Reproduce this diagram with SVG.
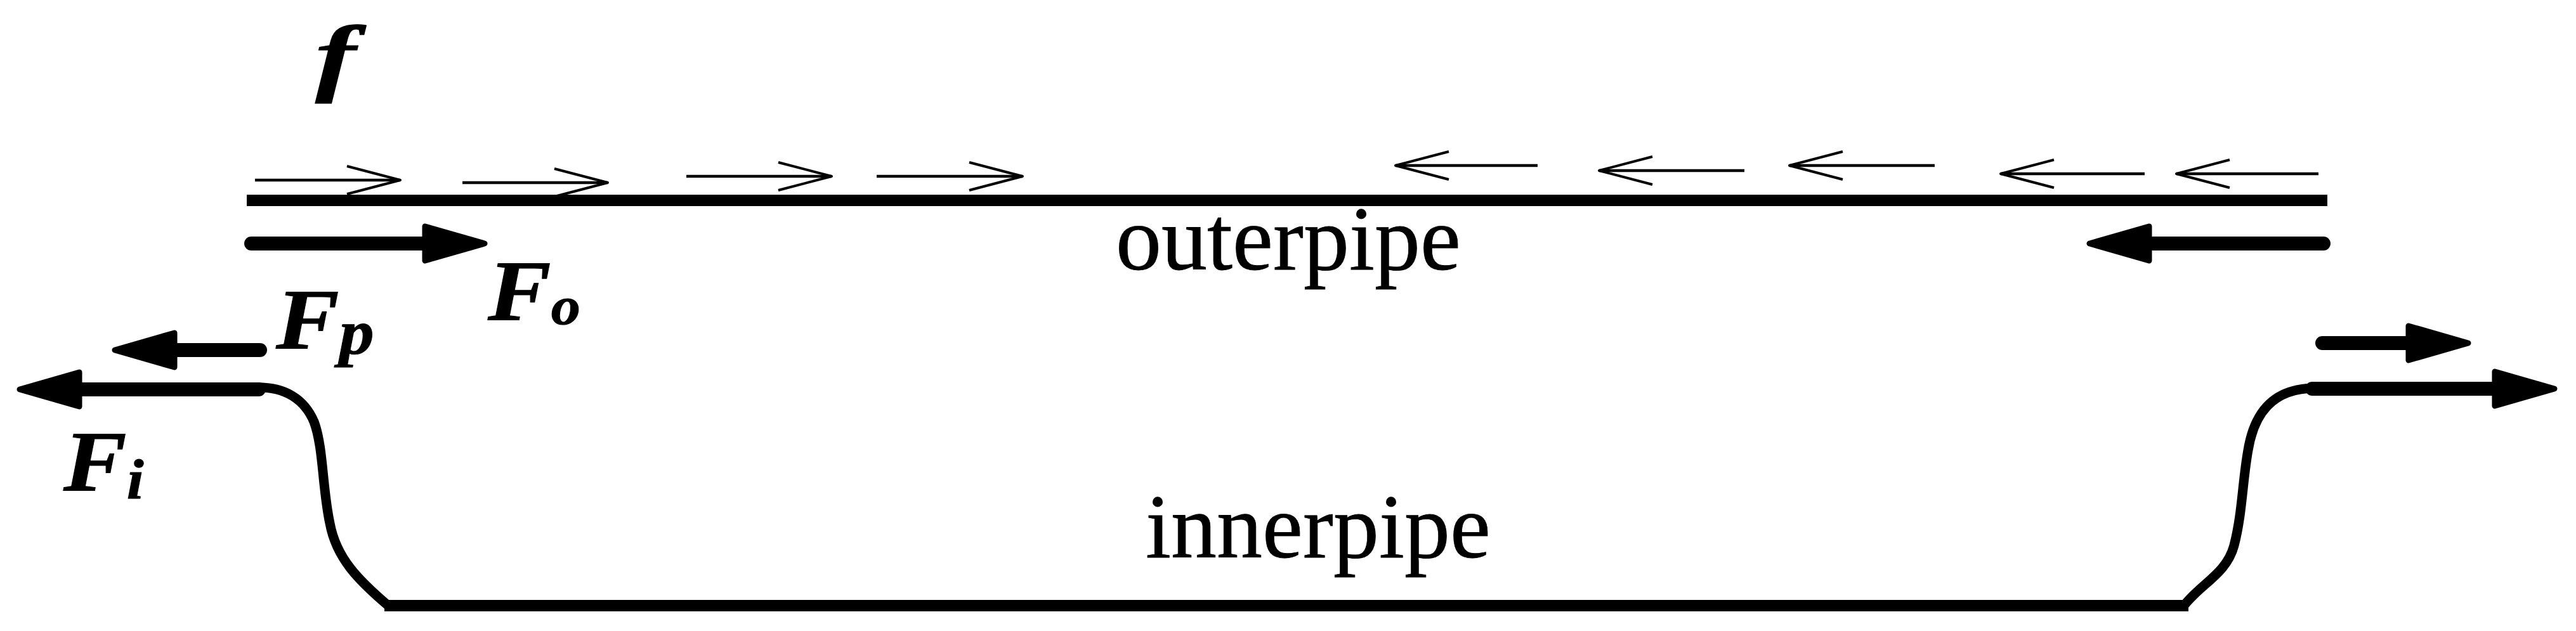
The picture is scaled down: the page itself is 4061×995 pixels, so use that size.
<svg xmlns="http://www.w3.org/2000/svg" width="4061" height="995" viewBox="0 0 4061 995">
<style>
text{font-family:"Liberation Serif","Times New Roman",serif;fill:#000}
.lab{font-size:144px;stroke:#000;stroke-width:.8}
.sym{font-weight:bold;font-style:italic;font-size:136px;stroke:#000;stroke-width:1}
.pipe{fill:none;stroke:#000;stroke-width:18}
.bend{fill:none;stroke:#000;stroke-width:15;stroke-linejoin:round}
.thin{fill:none;stroke:#000;stroke-width:4.5;marker-end:url(#open)}
.force{fill:none;stroke:#000;stroke-width:22;stroke-linecap:round;marker-end:url(#solid)}
</style>
<defs>
<marker id="open" markerUnits="userSpaceOnUse" viewBox="-100 -30 110 60" refX="0" refY="0" markerWidth="110" markerHeight="60" orient="auto">
<path d="M-84,-22 L0,0 L-84,22" fill="none" stroke="#000" stroke-width="4" stroke-linejoin="round"/>
</marker>
<marker id="solid" markerUnits="userSpaceOnUse" viewBox="-70 -40 150 80" refX="0" refY="0" markerWidth="150" markerHeight="80" orient="auto">
<path d="M-38,-27 L56,0 L-38,27 Z" fill="#000" stroke="#000" stroke-width="9" stroke-linejoin="round"/>
</marker>
</defs>
<rect width="4061" height="995" fill="#fff"/>
<g id="outer-pipe">
<line class="pipe" x1="389" y1="316" x2="3669" y2="316"/>
<text class="lab" x="1759" y="425">outerpipe</text>
</g>
<g id="inner-pipe">
<line class="pipe" x1="606" y1="955" x2="3450" y2="955"/>
<path class="bend" d="M400,611 C450,609 480,630 495,665 C510,705 508,770 520,825 C530,880 565,915 612,955"/>
<path class="bend" d="M3443,955 C3470,920 3510,905 3522,860 C3535,810 3535,760 3544,710 C3553,655 3580,612 3650,612"/>
<text class="lab" x="1806" y="879">innerpipe</text>
</g>
<g id="connectors">
<line class="thin" x1="402" y1="284" x2="631" y2="284"/>
<line class="thin" x1="729" y1="288" x2="958" y2="288"/>
<line class="thin" x1="1082" y1="278" x2="1311" y2="278"/>
<line class="thin" x1="1382" y1="278" x2="1612" y2="278"/>
<line class="thin" x1="2424" y1="261" x2="2200" y2="261"/>
<line class="thin" x1="2750" y1="269" x2="2521" y2="269"/>
<line class="thin" x1="3050" y1="261" x2="2821" y2="261"/>
<line class="thin" x1="3381" y1="274" x2="3154" y2="274"/>
<line class="thin" x1="3655" y1="274" x2="3431" y2="274"/>
<line class="force" x1="396" y1="384" x2="708" y2="384"/>
<line class="force" x1="3663" y1="384" x2="3350" y2="384"/>
<line class="force" x1="410" y1="552" x2="237" y2="552"/>
<line class="force" x1="3661" y1="541" x2="3835" y2="541"/>
<line class="force" x1="408" y1="614" x2="87" y2="614"/>
<line class="force" x1="3645" y1="613" x2="3971" y2="613"/>
</g>
<g id="label-f"><text class="sym" transform="translate(497,134) scale(1.42,1)">f</text></g>
<g id="label-Fo"><text class="sym" transform="translate(769,504) scale(1.1,1)">F<tspan dy="7" font-size="84">o</tspan></text></g>
<g id="label-Fp"><text class="sym" transform="translate(435,549) scale(1.1,1)">F<tspan dy="9" font-size="100">p</tspan></text></g>
<g id="label-Fi"><text class="sym" transform="translate(100,773) scale(1.1,1)">F<tspan dy="13" font-size="88">i</tspan></text></g>
</svg>
